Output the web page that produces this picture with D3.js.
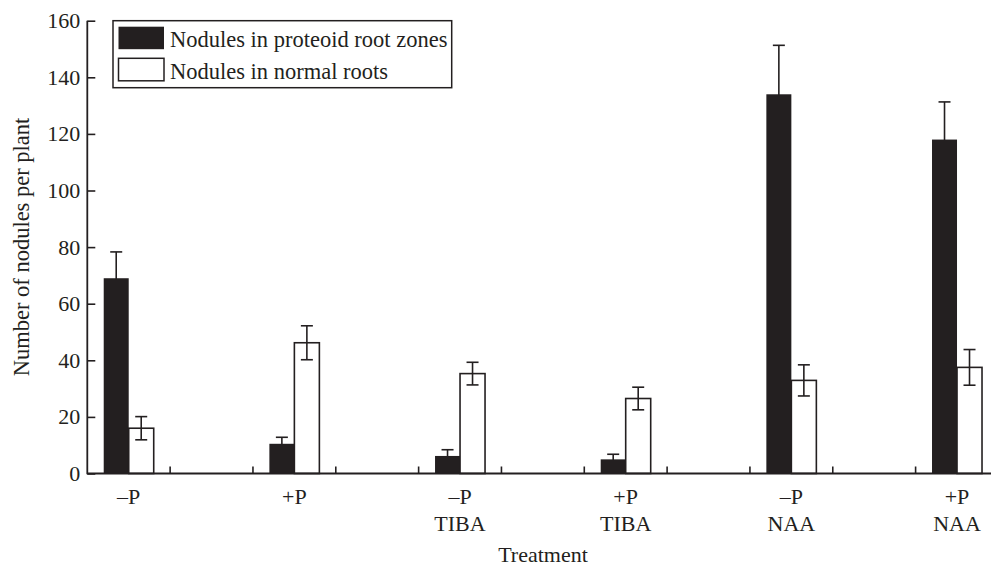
<!DOCTYPE html>
<html>
<head>
<meta charset="utf-8">
<script src="https://cdn.jsdelivr.net/npm/d3@7"></script>
<style>
  html, body { margin: 0; padding: 0; background: #fff; }
  svg { display: block; }
  text { font-family: "Liberation Serif", "Times New Roman", serif; fill: #231f20; }
</style>
</head>
<body>
<svg id="chart" width="991" height="565"></svg>
<script>
// ---- data ----
const treatmentLine1 = ["–P", "+P", "–P", "+P", "–P", "+P"];
const treatmentLine2 = ["", "", "TIBA", "TIBA", "NAA", "NAA"];
const seriesNames = ["Nodules in proteoid root zones", "Nodules in normal roots"];
const proteoidValues = [69, 10.5, 6.2, 5.0, 134, 118];
const proteoidErrors = [9.3, 2.3, 2.2, 1.8, 17.3, 13.3];
const normalValues = [16, 46.2, 35.3, 26.5, 32.9, 37.5];
const normalErrors = [4.1, 6.0, 4.0, 4.0, 5.5, 6.3];
const yTicks = [0, 20, 40, 60, 80, 100, 120, 140, 160];
const yTitle = "Number of nodules per plant";
const xTitle = "Treatment";

// ---- layout ----
const ink = "#231f20";
const svg = d3.select("#chart");
const plotLeft = 87.3, plotTop = 20.7, plotBottom = 473.5;
const slotW = 82.83;
const nSlots = 11;

// 11 slots: treatments in even slots, empty slots between
const slots = d3.range(nSlots);
const x = d3.scaleBand().domain(slots).range([plotLeft, plotLeft + nSlots * slotW]).padding(0);
const slotOf = i => i * 2;
const y = d3.scaleLinear().domain([0, 160]).range([plotBottom, plotTop]);
const barW = 25;
const inner = d3.scaleBand().domain(seriesNames).range([-barW, barW]).padding(0);

const rows = treatmentLine1.map((t, i) => ({
  i,
  center: x(slotOf(i)) + x.bandwidth() / 2,
  vals: [
    { s: seriesNames[0], v: proteoidValues[i], e: proteoidErrors[i] },
    { s: seriesNames[1], v: normalValues[i], e: normalErrors[i] }
  ]
}));

const fills = { [seriesNames[0]]: ink, [seriesNames[1]]: "#ffffff" };

const g = svg.append("g");
rows.forEach(r => {
  r.vals.forEach(d => {
    const bx = r.center + inner(d.s);
    const cx = bx + inner.bandwidth() / 2;
    const eg = g.append("g").attr("stroke", ink).attr("stroke-width", 1.6);
    eg.append("line").attr("x1", cx).attr("x2", cx).attr("y1", y(d.v + d.e)).attr("y2", y(d.v - d.e));
    eg.append("line").attr("x1", cx - 6).attr("x2", cx + 6).attr("y1", y(d.v + d.e)).attr("y2", y(d.v + d.e));
    eg.append("line").attr("x1", cx - 6).attr("x2", cx + 6).attr("y1", y(d.v - d.e)).attr("y2", y(d.v - d.e));
  });
  r.vals.forEach(d => {
    const bx = r.center + inner(d.s);
    const isWhite = d.s === seriesNames[1];
    g.append("rect")
      .attr("x", bx)
      .attr("y", y(d.v))
      .attr("width", inner.bandwidth())
      .attr("height", y(0) - y(d.v))
      .attr("fill", isWhite ? "none" : ink)
      .attr("stroke", ink)
      .attr("stroke-width", isWhite ? 1.6 : 0);
  });
});

// y axis
const yAxis = d3.axisLeft(y).tickValues(yTicks).tickSize(-8).tickPadding(7).tickFormat(d3.format("d"));
const ya = svg.append("g").attr("transform", `translate(${plotLeft},0)`).call(yAxis);
ya.select(".domain").remove();
ya.selectAll(".tick line").attr("stroke", ink).attr("stroke-width", 1.6);
ya.selectAll(".tick text").attr("font-size", 22).attr("fill", ink)
  .attr("font-family", '"Liberation Serif", "Times New Roman", serif');
svg.append("line").attr("x1", plotLeft).attr("x2", plotLeft).attr("y1", y(160)).attr("y2", y(0) + 0.8)
  .attr("stroke", ink).attr("stroke-width", 1.8);

// x axis line
svg.append("line").attr("x1", plotLeft).attr("x2", 991).attr("y1", y(0)).attr("y2", y(0))
  .attr("stroke", ink).attr("stroke-width", 1.8);
slots.slice(1).forEach(s => {
  svg.append("line").attr("x1", x(s)).attr("x2", x(s)).attr("y1", y(0)).attr("y2", y(0) - 7)
    .attr("stroke", ink).attr("stroke-width", 1.6);
});
rows.forEach(r => {
  svg.append("text").attr("x", r.center).attr("y", 503.5).attr("text-anchor", "middle")
    .attr("font-size", 22).text(treatmentLine1[r.i]);
  if (treatmentLine2[r.i]) {
    svg.append("text").attr("x", r.center).attr("y", 531).attr("text-anchor", "middle")
      .attr("font-size", 22).text(treatmentLine2[r.i]);
  }
});

// axis titles
svg.append("text").attr("x", 543).attr("y", 561.5).attr("text-anchor", "middle")
  .attr("font-size", 22).text(xTitle);
svg.append("text").attr("transform", "translate(29,247) rotate(-90)").attr("text-anchor", "middle")
  .attr("font-size", 22.5).text(yTitle);

// legend
const lg = svg.append("g");
lg.append("rect").attr("x", 113).attr("y", 20.7).attr("width", 338.7).attr("height", 67)
  .attr("fill", "#fff").attr("stroke", ink).attr("stroke-width", 1.5);
seriesNames.forEach((s, i) => {
  const yy = 26.7 + i * 31.6;
  lg.append("rect").attr("x", 118.5).attr("y", yy).attr("width", 45.5).attr("height", 22.5)
    .attr("fill", fills[s]).attr("stroke", ink).attr("stroke-width", i === 0 ? 0 : 1.5);
  lg.append("text").attr("x", 170).attr("y", 46.8 + i * 32.4).attr("font-size", 22.5).text(s);
});
</script>
</body>
</html>
